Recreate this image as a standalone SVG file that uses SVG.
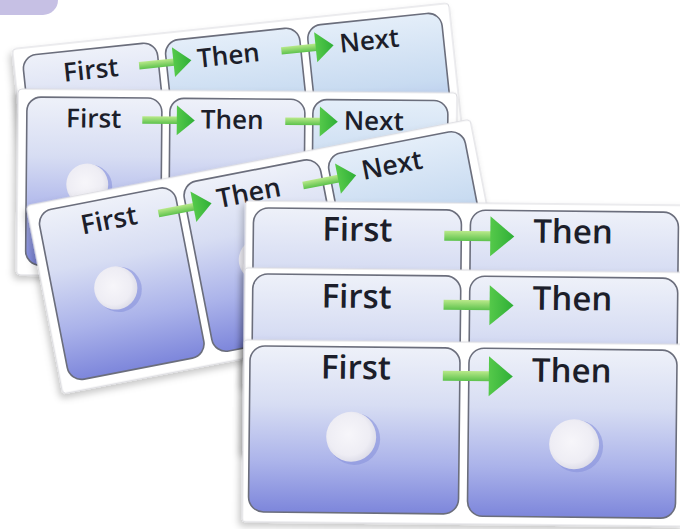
<svg xmlns="http://www.w3.org/2000/svg" xmlns:xlink="http://www.w3.org/1999/xlink" width="680" height="529" viewBox="0 0 680 529">
<style>
.back{fill:#ffffff;stroke:#d9d9de;stroke-width:1;filter:url(#sh)}
.cell{fill:url(#gc);stroke:#6b6e7c;stroke-width:1.6}
.celln{fill:url(#gn);stroke:#6b6e7c;stroke-width:1.6}
.t{font-family:"Open Sans","DejaVu Sans",sans-serif;font-weight:600;fill:#1c1e2a}
.bt{font-size:26px}
.ft{font-size:33px}
.dot{fill:url(#gd)}
.dsh{fill:#8893dc;opacity:.6}
</style>
<defs>
<filter id="sh" x="-10%" y="-10%" width="120%" height="125%">
<feDropShadow dx="-3" dy="4" stdDeviation="3.5" flood-color="#000" flood-opacity="0.22"/>
</filter>
<linearGradient id="gc" x1="0" y1="0" x2="0" y2="1">
<stop offset="0" stop-color="#eef1f9"/>
<stop offset="0.35" stop-color="#d7ddf3"/>
<stop offset="0.7" stop-color="#abb3ea"/>
<stop offset="1" stop-color="#7d86db"/>
</linearGradient>
<linearGradient id="gn" x1="0" y1="0" x2="0" y2="1">
<stop offset="0" stop-color="#e4eef9"/>
<stop offset="0.4" stop-color="#c8dbf1"/>
<stop offset="1" stop-color="#8c98df"/>
</linearGradient>
<radialGradient id="gd" cx="0.45" cy="0.45" r="0.6">
<stop offset="0" stop-color="#f7f6fa"/>
<stop offset="0.7" stop-color="#eeedf4"/>
<stop offset="1" stop-color="#d9d9e6"/>
</radialGradient>
<linearGradient id="gs" x1="0" y1="0" x2="0" y2="1">
<stop offset="0" stop-color="#b9e98a"/>
<stop offset="1" stop-color="#5cc24c"/>
</linearGradient>
<linearGradient id="gh" x1="0" y1="0" x2="1" y2="0">
<stop offset="0" stop-color="#55c94a"/>
<stop offset="1" stop-color="#2faf37"/>
</linearGradient>
<g id="arr">
<rect x="-70" y="-5" width="50" height="10" fill="url(#gs)"/>
<polygon points="-24,-20 0,0 -24,20" fill="url(#gh)"/>
</g>
</defs>

<rect x="0" y="0" width="680" height="529" fill="#ffffff"/>
<path id="tab" d="M0 0 H58 A15 15 0 0 1 43 15 H0 Z" fill="#c6c0e4"/>

<g id="strip1" transform="translate(22,56) rotate(-6)">
<rect class="back" x="-9" y="-8" width="439" height="186" rx="4"/>
<rect class="cell" x="0" y="0" width="135" height="168" rx="14"/>
<rect class="celln" x="143" y="0" width="135" height="168" rx="14"/>
<rect class="celln" x="286" y="0" width="135" height="168" rx="14"/>
<text class="t bt" x="67" y="30" text-anchor="middle">First</text>
<use href="#arr" transform="translate(168,22) scale(0.75)"/>
<text class="t bt" x="174" y="30">Then</text>
<use href="#arr" transform="translate(311,22) scale(0.75)"/>
<text class="t bt" x="317" y="30">Next</text>
</g>

<g id="strip2" transform="translate(27,97) rotate(0.5)">
<rect class="back" x="-9" y="-8" width="439" height="186" rx="4"/>
<rect class="cell" x="0" y="0" width="135" height="168" rx="14"/>
<rect class="cell" x="143" y="0" width="135" height="168" rx="14"/>
<rect class="celln" x="286" y="0" width="135" height="168" rx="14"/>
<circle class="dsh" cx="64" cy="89" r="22"/>
<circle class="dot" cx="61" cy="87" r="21"/>
<text class="t bt" x="67" y="30" text-anchor="middle">First</text>
<use href="#arr" transform="translate(168,22) scale(0.75)"/>
<text class="t bt" x="174" y="30">Then</text>
<use href="#arr" transform="translate(311,22) scale(0.75)"/>
<text class="t bt" x="317" y="30">Next</text>
</g>

<g id="strip3" transform="translate(37,212) rotate(-11) scale(1.03)">
<rect class="back" x="-9" y="-8" width="439" height="186" rx="4"/>
<rect class="cell" x="0" y="0" width="135" height="168" rx="14"/>
<rect class="cell" x="143" y="0" width="135" height="168" rx="14"/>
<rect class="celln" x="286" y="0" width="135" height="168" rx="14"/>
<circle class="dsh" cx="64" cy="89" r="22"/>
<circle class="dot" cx="61" cy="87" r="21"/>
<circle class="dsh" cx="207" cy="89" r="22"/>
<circle class="dot" cx="204" cy="87" r="21"/>
<text class="t bt" x="67" y="30" text-anchor="middle">First</text>
<use href="#arr" transform="translate(168,24) scale(0.75)"/>
<text class="t bt" x="174" y="30">Then</text>
<use href="#arr" transform="translate(311,24) scale(0.75)"/>
<text class="t bt" x="317" y="30">Next</text>
</g>

<g id="front" transform="rotate(0.6 460 360)">
<g id="rowA">
<rect class="back" x="244" y="203" width="442" height="185" rx="3"/>
<rect class="cell" x="252" y="210" width="208" height="166" rx="15"/>
<rect class="cell" x="469" y="210" width="208" height="166" rx="15"/>
<text class="t ft" x="356" y="242" text-anchor="middle">First</text>
<use href="#arr" transform="translate(513,236)"/>
<text class="t ft" x="532" y="242">Then</text>
</g>
<g id="rowB">
<rect class="back" x="244" y="270" width="442" height="185" rx="3"/>
<rect class="cell" x="252" y="276" width="208" height="166" rx="15"/>
<rect class="cell" x="469" y="276" width="208" height="166" rx="15"/>
<text class="t ft" x="356" y="309" text-anchor="middle">First</text>
<use href="#arr" transform="translate(513,305)"/>
<text class="t ft" x="532" y="309">Then</text>
</g>
<g id="rowC">
<rect class="back" x="244" y="342" width="442" height="182" rx="3"/>
<rect class="cell" x="250" y="348" width="210" height="166" rx="15"/>
<rect class="cell" x="469" y="348" width="208" height="168" rx="15"/>
<circle class="dsh" cx="355" cy="440" r="26"/>
<circle class="dot" cx="352" cy="438" r="25"/>
<circle class="dsh" cx="578" cy="445" r="26"/>
<circle class="dot" cx="575" cy="443" r="25"/>
<text class="t ft" x="356" y="380" text-anchor="middle">First</text>
<use href="#arr" transform="translate(513,376)"/>
<text class="t ft" x="532" y="381">Then</text>
</g>
</g>
</svg>
